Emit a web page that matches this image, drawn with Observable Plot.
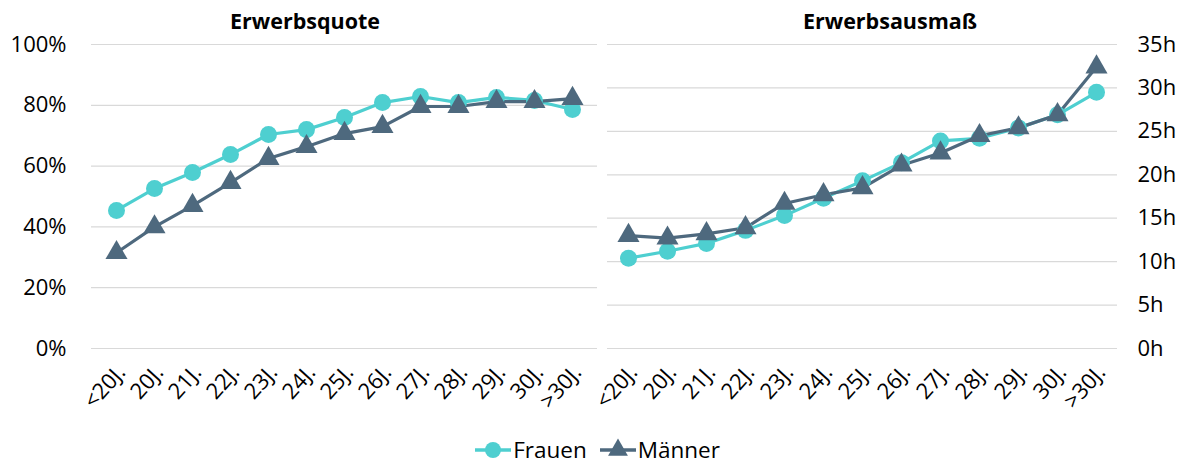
<!DOCTYPE html>
<html>
<head>
<meta charset="utf-8">
<script src="https://cdn.jsdelivr.net/npm/d3@7"></script>
<script src="https://cdn.jsdelivr.net/npm/@observablehq/plot@0.6"></script>
<style>
  html, body { margin: 0; padding: 0; background: #fff; }
  body { width: 1186px; height: 464px; overflow: hidden; font-family: "Open Sans", sans-serif; }
  #wrap { position: relative; width: 1186px; height: 464px; }
  .title { position: absolute; top: 6px; font-weight: bold; font-size: 21.5px; text-align: center; color: #000; }
  #left { position: absolute; left: 0; top: 0; }
  #right { position: absolute; left: 600px; top: 0; }
  svg { overflow: visible; }
  #legend { position: absolute; top: 436px; left: 0; width: 1186px; height: 28px; line-height: 26px; display: flex; justify-content: center; gap: 12px; font-size: 22.5px; color: #000; align-items: center; padding-left: 8px; box-sizing: border-box; }
  #legend .item { display: flex; align-items: center; gap: 1px; }
</style>
</head>
<body>
<div id="wrap">
  <div id="left"></div>
  <div id="right"></div>
  <div class="title" style="left:205px;width:200px;">Erwerbsquote</div>
  <div class="title" style="left:790px;width:200px;">Erwerbsausmaß</div>
  <div id="legend"></div>
</div>
<script>
const categories = ["<20J.", "20J.", "21J.", "22J.", "23J.", "24J.", "25J.", "26J.", "27J.", "28J.", "29J.", "30J.", ">30J."];
const seriesNames = ["Frauen", "Männer"];
const colors = ["#4ECFD0", "#4E697E"];
// Erwerbsquote (share)
const frauenQuote = [0.454, 0.526, 0.579, 0.638, 0.704, 0.720, 0.760, 0.809, 0.829, 0.809, 0.826, 0.816, 0.786];
const maennerQuote = [0.315, 0.400, 0.470, 0.546, 0.625, 0.664, 0.707, 0.730, 0.796, 0.796, 0.812, 0.812, 0.822];
// Erwerbsausmaß (hours)
const frauenStunden = [10.4, 11.2, 12.1, 13.6, 15.3, 17.3, 19.3, 21.4, 23.9, 24.2, 25.4, 26.9, 29.5];
const maennerStunden = [13.0, 12.7, 13.2, 13.9, 16.7, 17.7, 18.5, 21.1, 22.5, 24.5, 25.4, 26.9, 32.4];
const quoteTicks = [0, 0.2, 0.4, 0.6, 0.8, 1.0];
const stundenTicks = [0, 5, 10, 15, 20, 25, 30, 35];

function longTable(f, m) {
  const rows = [];
  categories.forEach((c, i) => {
    rows.push({cat: c, series: "Frauen", value: f[i]});
    rows.push({cat: c, series: "Männer", value: m[i]});
  });
  return rows;
}
const quoteData = longTable(frauenQuote, maennerQuote);
const stundenData = longTable(frauenStunden, maennerStunden);

const fontFamily = "Open Sans, sans-serif";

function makeChart(data, opts) {
  return Plot.plot({
    width: opts.width,
    height: 420,
    marginTop: 44,
    marginBottom: 72,
    marginLeft: opts.marginLeft,
    marginRight: opts.marginRight,
    style: {fontFamily, fontSize: "22px", color: "#000", background: "#fff", overflow: "visible"},
    x: {type: "point", domain: categories, padding: 0.5},
    y: {domain: opts.domain},
    color: {domain: seriesNames, range: colors},
    marks: [
      Plot.gridY(opts.ticks, {stroke: "#d9d9d9", strokeOpacity: 1, strokeWidth: 1.2}),
      Plot.axisX({label: null, tickSize: 0, tickRotate: -48, tickPadding: 20, dx: 5}),
      Plot.axisY(opts.ticks, {anchor: opts.axis, tickFormat: opts.format, label: null, tickSize: 0, tickPadding: opts.tickPadding}),
      Plot.line(data, {x: "cat", y: "value", z: "series", stroke: "series", strokeWidth: 3.2}),
      Plot.dot(data.filter(d => d.series === "Frauen"), {x: "cat", y: "value", fill: "series", r: 8.5, symbol: "circle"}),
      Plot.dot(data.filter(d => d.series === "Männer"), {x: "cat", y: "value", fill: "series", r: 8.2, symbol: "triangle"})
    ]
  });
}

document.getElementById("left").appendChild(makeChart(quoteData, {
  width: 600, marginLeft: 91, marginRight: 3, domain: [0, 1], ticks: quoteTicks,
  format: d => Math.round(d * 100) + "%", tickPadding: 25, axis: "left"
}));
document.getElementById("right").appendChild(makeChart(stundenData, {
  width: 586, marginLeft: 7, marginRight: 69, domain: [0, 35], ticks: stundenTicks,
  format: d => d + "h", tickPadding: 20, axis: "right"
}));

// Legend
const legend = d3.select("#legend");
seriesNames.forEach((name, i) => {
  const item = legend.append("div").attr("class", "item");
  const svg = item.append("svg").attr("width", 38).attr("height", 24);
  svg.append("line").attr("x1", 1).attr("x2", 37).attr("y1", 12).attr("y2", 12)
    .attr("stroke", colors[i]).attr("stroke-width", 3.5);
  const sym = d3.symbol().type(i === 0 ? d3.symbolCircle : d3.symbolTriangle).size(i === 0 ? 200 : 170);
  svg.append("path").attr("d", sym()).attr("transform", "translate(19,12)").attr("fill", colors[i]);
  item.append("span").text(name);
});
</script>
</body>
</html>
